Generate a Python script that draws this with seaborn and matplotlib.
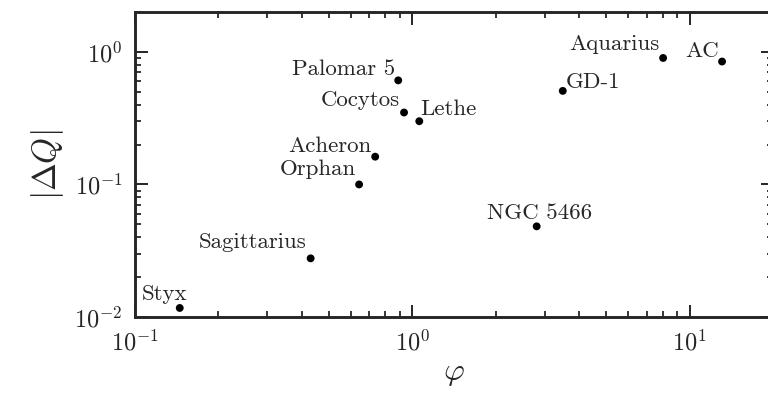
import seaborn as sns
from matplotlib import pyplot as plt
import pandas as pd

names = ["Styx", "Sagittarius", "Orphan", "Acheron", "Palomar 5", "Cocytos",
         "Lethe", "NGC 5466", "GD-1", "Aquarius", "AC"]
phi = [0.145, 0.43, 0.643, 0.735, 0.89, 0.934, 1.06, 2.81, 3.49, 8.03, 13.1]
dq = [0.0117, 0.0277, 0.100, 0.162, 0.61, 0.349, 0.30, 0.0483, 0.508, 0.90, 0.846]

# label placement (offset in points, horizontal alignment)
label_pos = {
    "Styx": (5.8, 5.8, "right"),
    "Sagittarius": (-2.9, 7.2, "right"),
    "Orphan": (-2.2, 6.5, "right"),
    "Acheron": (-2.9, 3.6, "right"),
    "Palomar 5": (-2.2, 3.6, "right"),
    "Cocytos": (-2.9, 4.8, "right"),
    "Lethe": (0.7, 4.8, "left"),
    "NGC 5466": (2.2, 5.5, "center"),
    "GD-1": (2.4, 2.4, "left"),
    "Aquarius": (-2.7, 5.5, "right"),
    "AC": (-2.2, 3.3, "right"),
}

df = pd.DataFrame({"name": names, "phi": phi, "dq": dq})

sns.set_style("ticks")
plt.rcParams["font.family"] = "serif"
plt.rcParams["font.serif"] = ["cmr10", "DejaVu Serif"]
plt.rcParams["mathtext.fontset"] = "cm"
plt.rcParams["axes.formatter.use_mathtext"] = True

fig = plt.figure(figsize=(7.68, 3.93), dpi=100)
ax = fig.add_axes([135 / 768, 76 / 393, 638 / 768, 305 / 393])

sns.scatterplot(data=df, x="phi", y="dq", color="black", s=32,
                edgecolor="none", ax=ax, legend=False)

for n, x, y in zip(names, phi, dq):
    dx, dy, ha = label_pos[n]
    ax.annotate(n, (x, y), xytext=(dx, dy), textcoords="offset points",
                ha=ha, va="baseline", fontsize=16.5)

ax.set_xscale("log")
ax.set_yscale("log")
ax.set_xlim(0.1, 20)
ax.set_ylim(0.01, 2)
ax.set_xlabel(r"$\varphi$", fontsize=23, labelpad=4)
ax.set_ylabel(r"$|\Delta Q|$", fontsize=24, labelpad=6)

for s in ax.spines.values():
    s.set_linewidth(2.1)
ax.tick_params(which="both", direction="in", top=True, right=True,
               labelsize=17.5, color="black")
ax.tick_params(which="major", length=9, width=1.2, pad=9)
ax.tick_params(which="minor", length=4.5, width=1.1)

fig.savefig("out.png", dpi=100)
